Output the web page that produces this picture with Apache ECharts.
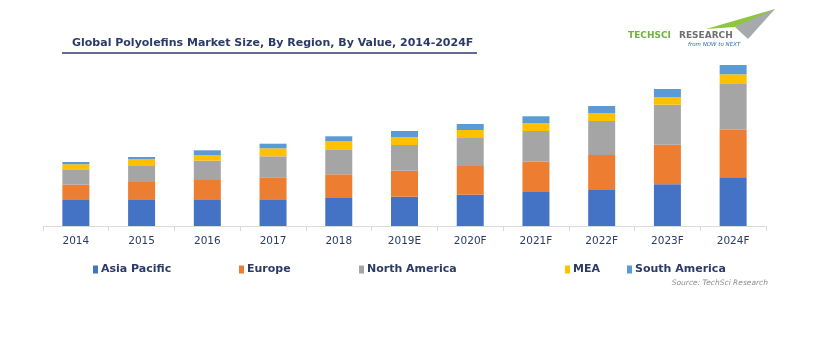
<!DOCTYPE html>
<html>
<head>
<meta charset="utf-8">
<script src="https://cdn.jsdelivr.net/npm/echarts@6/dist/echarts.min.js"></script>
<style>
html,body{margin:0;padding:0;background:#fff;}
#c{width:820px;height:350px;}
</style>
</head>
<body>
<div id="c"></div>
<script>
const categories = ['2014','2015','2016','2017','2018','2019E','2020F','2021F','2022F','2023F','2024F'];
const asiaPacific   = [26.7, 26.7, 26.7, 26.7, 28.0, 29.3, 31.3, 34.0, 36.0, 41.7, 48.7];
const europe        = [14.6, 17.3, 19.3, 22.0, 23.7, 26.0, 28.7, 30.3, 35.0, 39.6, 47.6];
const northAmerica  = [15.4, 16.0, 19.3, 21.0, 25.0, 25.7, 28.0, 30.7, 34.0, 40.0, 46.4];
const mea           = [5.0, 6.7, 5.7, 8.0, 8.0, 7.7, 8.0, 7.7, 8.0, 7.7, 9.0];
const southAmerica  = [2.3, 2.3, 4.7, 4.6, 5.0, 6.3, 6.0, 7.0, 7.0, 8.0, 9.3];
const seriesNames = ['Asia Pacific','Europe','North America','MEA','South America'];
const colors = ['#4472C4','#ED7D31','#A5A5A5','#FFC000','#5B9BD5'];
const values = [asiaPacific, europe, northAmerica, mea, southAmerica];

const chart = echarts.init(document.getElementById('c'));
const legendLeft = [88, 234, 354, 560, 622];
const txtColor = '#2B3A67';

const option = {
  backgroundColor: '#ffffff',
  animation: false,
  grid: {left: 43, right: 54, top: 26, bottom: 124},
  xAxis: {
    type: 'category',
    data: categories,
    axisLine: {lineStyle: {color: '#D9D9D9', width: 1}},
    axisTick: {show: true, length: 5, lineStyle: {color: '#D9D9D9'}},
    axisLabel: {color: txtColor, fontFamily: 'DejaVu Sans', fontSize: 10.5, margin: 10}
  },
  yAxis: {type: 'value', min: 0, max: 200, show: false, splitLine: {show: false}},
  legend: seriesNames.map((n, i) => ({
    data: [n],
    left: legendLeft[i],
    top: 259,
    itemWidth: 5,
    itemHeight: 8,
    itemGap: 3,
    icon: 'rect',
    textStyle: {color: txtColor, fontFamily: 'DejaVu Sans', fontWeight: 'bold', fontSize: 11, padding: [0,0,0,-2]},
    selectedMode: false
  })),
  series: seriesNames.map((n, i) => ({
    name: n,
    type: 'bar',
    stack: 'total',
    barWidth: 27,
    data: values[i],
    itemStyle: {color: colors[i]}
  })),
  graphic: [
    {type: 'text', left: 72, top: 38, style: {text: 'Global Polyolefins Market Size, By Region, By Value, 2014-2024F', fill: '#2B3A67', font: 'bold 11px "DejaVu Sans"'}},
    {type: 'line', shape: {x1: 62, y1: 53, x2: 477, y2: 53}, style: {stroke: '#2B3A67', lineWidth: 1.5}},
    {type: 'text', right: 52, top: 279, style: {text: 'Source: TechSci Research', fill: '#8C8C8C', font: 'italic 7.5px "DejaVu Sans"'}},
    {type: 'polygon', shape: {points: [[706,29],[775,9],[758,21],[735,27]]}, style: {fill: '#8DC63F'}},
    {type: 'polygon', shape: {points: [[735,27],[775,9],[748,39]]}, style: {fill: '#A7AAAD'}},
    {type: 'text', left: 628, top: 31, style: {text: 'TECHSCI', fill: '#6DB33F', font: 'bold 9px "DejaVu Sans"'}},
    {type: 'text', left: 679, top: 31, style: {text: 'RESEARCH', fill: '#707070', font: 'bold 9px "DejaVu Sans"'}},
    {type: 'text', left: 688, top: 42, style: {text: 'from NOW to NEXT', fill: '#2E6DB4', font: 'italic 5.5px "DejaVu Sans"'}}
  ]
};
chart.setOption(option);
</script>
</body>
</html>
